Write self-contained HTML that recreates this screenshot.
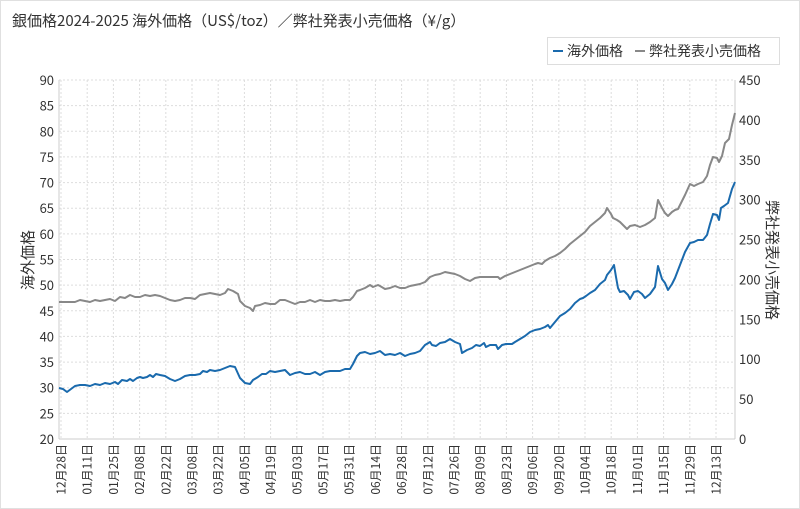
<!DOCTYPE html>
<html><head><meta charset="utf-8"><style>
body{margin:0;background:#fff;}
svg{display:block;font-family:"Noto Sans CJK JP","Liberation Sans",sans-serif;}
</style></head><body>
<svg width="800" height="509" xmlns="http://www.w3.org/2000/svg">
<rect x="0.5" y="0.5" width="799" height="508" fill="#fff" stroke="#e0e0e0"/>
<text x="12" y="26" font-size="15" fill="#333">銀価格2024-2025 海外価格（US$/toz）／弊社発表小売価格（¥/g）</text>
<rect x="547.5" y="37.5" width="232" height="27" fill="#fff" stroke="#ddd"/>
<line x1="553" y1="51" x2="563" y2="51" stroke="#1a6aad" stroke-width="2"/>
<text x="567" y="56" font-size="14" fill="#333">海外価格</text>
<line x1="635" y1="51" x2="645" y2="51" stroke="#888" stroke-width="2"/>
<text x="649" y="56" font-size="14" fill="#333">弊社発表小売価格</text>
<g id="grid" stroke="#ddd" stroke-dasharray="2,2" stroke-width="1">
<line x1="59" y1="80" x2="735" y2="80"/><line x1="59" y1="105.6" x2="735" y2="105.6"/><line x1="59" y1="131.3" x2="735" y2="131.3"/><line x1="59" y1="156.9" x2="735" y2="156.9"/><line x1="59" y1="182.6" x2="735" y2="182.6"/><line x1="59" y1="208.2" x2="735" y2="208.2"/><line x1="59" y1="233.9" x2="735" y2="233.9"/><line x1="59" y1="259.5" x2="735" y2="259.5"/><line x1="59" y1="285.1" x2="735" y2="285.1"/><line x1="59" y1="310.8" x2="735" y2="310.8"/><line x1="59" y1="336.4" x2="735" y2="336.4"/><line x1="59" y1="362.1" x2="735" y2="362.1"/><line x1="59" y1="387.7" x2="735" y2="387.7"/><line x1="59" y1="413.4" x2="735" y2="413.4"/>
</g>
<g stroke="#ddd" stroke-dasharray="2,2" id="vg"></g>
<line x1="59" y1="80" x2="59" y2="439" stroke="#ccc"/>
<line x1="735" y1="80" x2="735" y2="439" stroke="#ccc"/>
<line x1="59" y1="439" x2="735" y2="439" stroke="#ccc"/>
<g font-size="13" fill="#333" text-anchor="end">
<text x="54" y="85">90</text><text x="54" y="110.6">85</text><text x="54" y="136.3">80</text><text x="54" y="161.9">75</text><text x="54" y="187.6">70</text><text x="54" y="213.2">65</text><text x="54" y="238.9">60</text><text x="54" y="264.5">55</text><text x="54" y="290.1">50</text><text x="54" y="315.8">45</text><text x="54" y="341.4">40</text><text x="54" y="367.1">35</text><text x="54" y="392.7">30</text><text x="54" y="418.4">25</text><text x="54" y="444">20</text>
</g>
<g font-size="13" fill="#333" text-anchor="start">
<text x="739" y="85">450</text><text x="739" y="124.9">400</text><text x="739" y="164.8">350</text><text x="739" y="204.7">300</text><text x="739" y="244.6">250</text><text x="739" y="284.4">200</text><text x="739" y="324.3">150</text><text x="739" y="364.2">100</text><text x="739" y="404.1">50</text><text x="739" y="444">0</text>
</g>
<text transform="translate(33,260) rotate(-90)" font-size="15" fill="#333" text-anchor="middle">海外価格</text>
<text transform="translate(767,260) rotate(90)" font-size="15" fill="#333" text-anchor="middle">弊社発表小売価格</text>
<g id="xl" font-size="12" fill="#333"></g>
<polyline fill="none" stroke="#888" stroke-width="2" stroke-linejoin="round" points="59,302 65,302 75,302 80,300 85,301 90,302 95,300 100,301 105,300 110,299 115,301 120,297 125,298 130,295 135,297 140,297 145,295 150,296 155,295 160,296 165,298 170,300 175,301 180,300 185,298 190,298 195,299 200,295 205,294 210,293 215,294 220,295 225,293 228,289 233,291 238,294 240,301 245,306 250,308 253,311 255,306 260,305 265,303 270,304 275,304 280,300 285,300 290,302 295,304 300,302 305,302 310,300 315,302 320,300 325,301 330,301 335,300 340,301 345,300 350,300 353,297 357,291 360,290 365,288 370,285 373,287 378,285 380,286 385,289 390,288 395,286 400,288 405,288 410,286 415,285 420,284 425,282 430,277 435,275 440,274 445,272 450,273 455,274 460,276 465,279 470,281 475,278 480,277 490,277 498,277 500,279 505,276 510,274 515,272 520,270 525,268 530,266 535,264 538,263 542,264 545,261 550,258 555,256 560,253 565,249 570,244 575,240 580,236 585,232 590,226 595,222 600,218 605,213 607,208 611,214 613,218 617,220 620,222 623,225 627,229 630,226 635,225 640,227 645,225 650,222 655,218 658,200 662,208 665,213 668,216 672,212 675,210 678,209 680,205 685,195 690,184 694,186 698,184 703,182 707,176 710,165 713,157 717,158 719,162 722,156 725,143 729,139 732,125 735,113"/>
<polyline fill="none" stroke="#1a6aad" stroke-width="2" stroke-linejoin="round" points="59,388 63,389 67,392 71,389 75,386 80,385 85,385 90,386 95,384 100,385 105,383 110,384 115,382 118,384 122,380 127,381 130,379 133,381 137,378 140,377 143,378 147,377 150,375 153,377 156,374 160,375 165,376 170,379 175,381 180,379 185,376 190,375 195,375 200,374 203,371 207,372 210,370 215,371 220,370 225,368 230,366 235,367 240,378 245,383 250,384 253,380 258,377 262,374 266,374 270,371 275,372 280,371 285,370 290,375 295,373 300,372 305,374 310,374 315,372 320,375 325,372 330,371 335,371 340,371 345,369 350,369 353,364 357,356 360,353 365,352 370,354 375,353 380,351 385,355 390,354 395,355 400,353 405,356 410,354 415,353 420,351 425,345 430,342 432,345 436,346 440,343 445,342 450,339 455,342 460,344 462,353 467,350 472,348 476,345 480,346 484,343 486,347 490,345 496,345 498,349 502,345 506,344 512,344 515,342 520,339 525,336 530,332 535,330 540,329 545,327 548,325 550,328 555,322 560,316 565,313 570,309 575,303 580,299 583,298 586,296 590,293 595,290 600,284 605,280 607,275 611,270 614,265 616,277 618,288 620,292 624,291 628,295 630,299 634,292 638,291 642,294 645,298 650,294 655,287 658,266 662,279 665,283 668,290 672,284 675,278 680,265 685,252 690,243 694,242 698,240 703,240 707,235 710,224 713,214 717,215 719,220 721,208 724,206 728,203 732,189 735,182"/>
</svg>
<script>
var labels=["12月28日","01月11日","01月25日","02月08日","02月22日","03月08日","03月22日","04月05日","04月19日","05月03日","05月17日","05月31日","06月14日","06月28日","07月12日","07月26日","08月09日","08月23日","09月06日","09月20日","10月04日","10月18日","11月01日","11月15日","11月29日","12月13日"];
var ns="http://www.w3.org/2000/svg",vg=document.getElementById("vg"),xl=document.getElementById("xl");
labels.forEach(function(l,i){var x=61+i*26.2;
var ln=document.createElementNS(ns,"line");ln.setAttribute("x1",x);ln.setAttribute("x2",x);ln.setAttribute("y1",80);ln.setAttribute("y2",439);vg.appendChild(ln);
var t=document.createElementNS(ns,"text");t.setAttribute("transform","translate("+(x+4.5)+",444) rotate(-90)");t.setAttribute("text-anchor","end");t.textContent=l;xl.appendChild(t);});
</script>
</body></html>
